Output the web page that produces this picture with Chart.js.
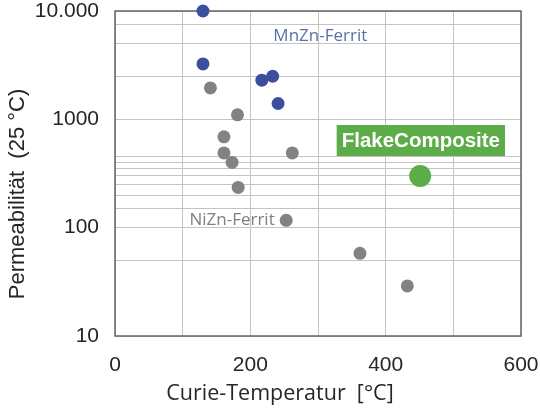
<!DOCTYPE html>
<html>
<head>
<meta charset="utf-8">
<script src="https://cdn.jsdelivr.net/npm/chart.js@4.4.1/dist/chart.umd.min.js"></script>
<style>
  html, body { margin: 0; padding: 0; background: #fff; }
  #wrap { width: 540px; height: 408px; }
</style>
</head>
<body>
<div id="wrap"><canvas id="myChart"></canvas></div>
<script>
// values
const mnznTemp = [130, 130, 217, 233, 241];
const mnznPerm = [10000, 3250, 2300, 2500, 1400];
const niznTemp = [141, 181, 161, 161, 173, 182, 262, 253, 362, 432];
const niznPerm = [1950, 1100, 690, 490, 400, 235, 490, 117, 58, 29];
const flakeTemp = [451];
const flakePerm = [300];

const xTicks = [0, 100, 200, 300, 400, 500, 600];
const xTickLabels = ['0', '', '200', '', '400', '', '600'];
// horizontal grid lines as in the original
const yGrid = [10, 50, 100, 150, 200, 250, 300, 350, 400, 450, 1000, 2500, 5000, 7500, 10000];
const yTickValues = [10, 100, 1000, 10000];
const yTickLabels = ['10', '100', '1000', '10.000'];

const toPoints = (xs, ys) => xs.map((x, i) => ({ x: x, y: ys[i] }));

const textColor = '#262626';

const labelsPlugin = {
  id: 'labels',
  beforeDatasetsDraw(chart) {
    const { ctx, chartArea: a } = chart;
    ctx.save();
    ctx.strokeStyle = '#666666';
    ctx.lineWidth = 1.5;
    ctx.strokeRect(a.left, a.top, a.right - a.left, a.bottom - a.top);
    ctx.restore();
  },
  afterDatasetsDraw(chart) {
    const { ctx } = chart;
    const xs = chart.scales.x, ys = chart.scales.y;
    ctx.save();

    // axis titles
    ctx.fillStyle = textColor;
    ctx.textAlign = 'center';
    ctx.textBaseline = 'middle';
    ctx.font = '21.5px "Open Sans"';
    ctx.fillText('Curie-Temperatur  [°C]', 280, 394);

    ctx.save();
    ctx.translate(18, 194);
    ctx.rotate(-Math.PI / 2);
    ctx.font = '22px "Liberation Sans"';
    ctx.fillText('Permeabilität  (25 °C)', 0, 0);
    ctx.restore();

    // series labels
    ctx.textAlign = 'left';
    ctx.font = '17px "Open Sans"';
    ctx.fillStyle = '#5672a8';
    ctx.fillText('MnZn-Ferrit', xs.getPixelForValue(234), ys.getPixelForValue(5900));
    ctx.fillStyle = '#7f7f7f';
    ctx.fillText('NiZn-Ferrit', xs.getPixelForValue(110), ys.getPixelForValue(117));

    // green label box
    ctx.font = 'bold 20.5px "Liberation Sans"';
    const cx = xs.getPixelForValue(452), cy = ys.getPixelForValue(637);
    const w = ctx.measureText('FlakeComposite').width + 10;
    ctx.fillStyle = '#5cad47';
    ctx.fillRect(cx - w / 2, cy - 15.5, w, 31);
    ctx.fillStyle = '#ffffff';
    ctx.textAlign = 'center';
    ctx.fillText('FlakeComposite', cx, cy + 1);

    ctx.restore();
  }
};

const ctx = document.getElementById('myChart').getContext('2d');
const myChart = new Chart(ctx, {
  type: 'scatter',
  data: {
    datasets: [{
      label: 'NiZn-Ferrit',
      data: toPoints(niznTemp, niznPerm),
      backgroundColor: '#828282',
      pointRadius: 6.5,
      borderWidth: 0,
      clip: false
    }, {
      label: 'MnZn-Ferrit',
      data: toPoints(mnznTemp, mnznPerm),
      backgroundColor: '#3b4f9e',
      pointRadius: 6.5,
      borderWidth: 0,
      clip: false
    }, {
      label: 'FlakeComposite',
      data: toPoints(flakeTemp, flakePerm),
      backgroundColor: '#5cad47',
      pointRadius: 11,
      borderWidth: 0,
      clip: false
    }]
  },
  options: {
    responsive: true,
    maintainAspectRatio: false,
    animation: false,
    layout: { padding: { left: 0, right: 19, top: 11, bottom: 0 } },
    plugins: {
      legend: { display: false },
      tooltip: { enabled: false }
    },
    scales: {
      x: {
        type: 'linear',
        min: 0,
        max: 600,
        afterBuildTicks: (scale) => { scale.ticks = xTicks.map(v => ({ value: v })); },
        afterFit: (scale) => {
          scale.height = 72;
          scale.paddingLeft = 0;
          scale.paddingRight = 0;
        },
        border: { display: false },
        grid: { color: '#c4c4c4', lineWidth: 1, drawTicks: false },
        ticks: {
          autoSkip: false,
          maxRotation: 0,
          padding: 17,
          color: textColor,
          font: { family: '"Liberation Sans"', size: 21 },
          callback: (v) => xTickLabels[xTicks.indexOf(v)]
        }
      },
      y: {
        type: 'logarithmic',
        min: 10,
        max: 10000,
        afterBuildTicks: (scale) => { scale.ticks = yGrid.map(v => ({ value: v })); },
        afterFit: (scale) => {
          scale.width = 115;
          scale.paddingTop = 0;
          scale.paddingBottom = 0;
        },
        border: { display: false },
        grid: { color: '#c4c4c4', lineWidth: 1, drawTicks: false },
        ticks: {
          autoSkip: false,
          padding: 16,
          color: textColor,
          font: { family: '"Liberation Sans"', size: 21 },
          callback: (v) => {
            const i = yTickValues.indexOf(v);
            return i >= 0 ? yTickLabels[i] : '';
          }
        }
      }
    }
  },
  plugins: [labelsPlugin]
});
</script>
</body>
</html>
